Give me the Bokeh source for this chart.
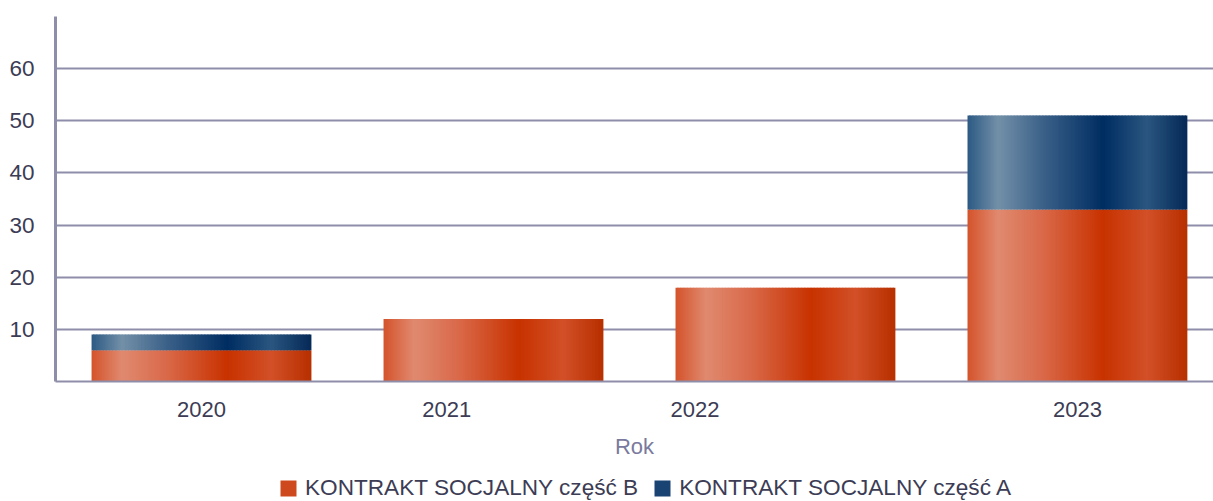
import numpy as np
from bokeh.plotting import figure
from bokeh.layouts import column
from bokeh.models import ColumnDataSource, FixedTicker, Legend, LegendItem, Range1d
from bokeh.embed import file_html
from bokeh.resources import INLINE

# ---- data ----
years = ["2020", "2021", "2022", "2023"]
part_b = [6, 12, 18, 33]      # KONTRAKT SOCJALNY część B
part_a = [3, 0, 0, 18]        # KONTRAKT SOCJALNY część A
y_ticks = [10, 20, 30, 40, 50, 60]
x_label_pos = [0, 0.84, 1.69, 3]   # where the year labels sit under the bars
series_labels = ["KONTRAKT SOCJALNY część B", "KONTRAKT SOCJALNY część A"]

FONT = "Liberation Sans"
GRID = "#8e8eab"
TEXT = "#3c3c55"

orange_stops = [(0.0, "#d4532b"), (0.14, "#e08a70"), (0.35, "#d96848"),
                (0.62, "#c83200"), (0.82, "#d25028"), (1.0, "#b83000")]
blue_stops = [(0.0, "#2c5a84"), (0.14, "#7390a8"), (0.35, "#3a6088"),
              (0.62, "#002d62"), (0.82, "#2a5680"), (1.0, "#062a58")]


def interp_color(stops, t):
    for (t0, c0), (t1, c1) in zip(stops[:-1], stops[1:]):
        if t0 <= t <= t1:
            f = (t - t0) / (t1 - t0) if t1 > t0 else 0
            a = [int(c0[i:i + 2], 16) for i in (1, 3, 5)]
            b = [int(c1[i:i + 2], 16) for i in (1, 3, 5)]
            return "#%02x%02x%02x" % tuple(round(a[k] + (b[k] - a[k]) * f) for k in range(3))
    return stops[-1][1]


BAR_W = 0.75
N = 150
sw = BAR_W / N


def strips(bottoms, tops, stops):
    xs, bs, ts, cs = [], [], [], []
    for i, (b, t) in enumerate(zip(bottoms, tops)):
        if t <= b:
            continue
        for k in range(N):
            frac = (k + 0.5) / N
            xs.append(i - BAR_W / 2 + frac * BAR_W)
            bs.append(b)
            ts.append(t)
            cs.append(interp_color(stops, frac))
    return ColumnDataSource(dict(x=xs, bottom=bs, top=ts, color=cs))


b_bot = [0] * len(years)
b_top = list(part_b)
a_bot = list(part_b)
a_top = [b + a for b, a in zip(part_b, part_a)]

src_b = strips(b_bot, b_top, orange_stops)
src_a = strips(a_bot, a_top, blue_stops)

p = figure(width=1213, height=466, output_backend="svg", toolbar_location=None,
           x_range=Range1d(-0.5, 3.466), y_range=Range1d(0, 70),
           min_border_left=55, min_border_right=0, min_border_top=16, min_border_bottom=85)
p.outline_line_color = None
p.background_fill_color = "white"
p.border_fill_color = "white"

p.vbar(x="x", bottom="bottom", top="top", width=sw * 1.6, fill_color="color",
       line_color=None, source=src_b)
p.vbar(x="x", bottom="bottom", top="top", width=sw * 1.6, fill_color="color",
       line_color=None, source=src_a)

# grid
p.xgrid.visible = False
p.ygrid.ticker = FixedTicker(ticks=y_ticks + [70])
p.ygrid.grid_line_color = GRID
p.ygrid.grid_line_width = 2
p.ygrid.level = "underlay"

# y axis
p.yaxis.ticker = FixedTicker(ticks=y_ticks)
p.yaxis.axis_line_color = GRID
p.yaxis.axis_line_width = 3
p.yaxis.major_tick_line_color = None
p.yaxis.minor_tick_line_color = None
p.yaxis.major_label_standoff = 15
p.yaxis.major_label_text_font = FONT
p.yaxis.major_label_text_font_size = "22.5px"
p.yaxis.major_label_text_color = TEXT

# x axis
p.xaxis.ticker = FixedTicker(ticks=x_label_pos)
p.xaxis.major_label_overrides = {pos: y for pos, y in zip(x_label_pos, years)}
p.xaxis.axis_line_color = GRID
p.xaxis.axis_line_width = 2
p.xaxis.major_tick_line_color = None
p.xaxis.minor_tick_line_color = None
p.xaxis.major_label_standoff = 14
p.xaxis.major_label_text_font = FONT
p.xaxis.major_label_text_font_size = "22px"
p.xaxis.major_label_text_color = TEXT
p.xaxis.axis_label = "Rok"
p.xaxis.axis_label_standoff = 14
p.xaxis.axis_label_text_font = FONT
p.xaxis.axis_label_text_font_size = "22px"
p.xaxis.axis_label_text_font_style = "normal"
p.xaxis.axis_label_text_color = "#7a7a9e"

# legend strip below the chart (hidden renderers sharing the bar data; only legend shows)
lf = figure(width=1213, height=35, output_backend="svg", toolbar_location=None,
            x_range=Range1d(0, 1), y_range=Range1d(0, 1),
            x_axis_location=None, y_axis_location=None, min_border=0)
lf.outline_line_color = None
lf.background_fill_color = "white"
lf.border_fill_color = "white"
lf.xgrid.visible = False
lf.ygrid.visible = False
lb = lf.vbar(x="x", bottom="bottom", top="top", width=sw, fill_color="color",
             line_color=None, source=src_b, visible=False)
la = lf.vbar(x="x", bottom="bottom", top="top", width=sw, fill_color="color",
             line_color=None, source=src_a, visible=False)

legend = Legend(items=[
    LegendItem(label=series_labels[0], renderers=[lb], index=N // 2),
    LegendItem(label=series_labels[1], renderers=[la], index=N // 2),
], orientation="horizontal", location=(223, 0))
legend.label_text_font = FONT
legend.label_text_font_size = "22.6px"
legend.label_text_color = TEXT
legend.glyph_width = 20
legend.glyph_height = 20
legend.label_height = 22
legend.label_standoff = 7
legend.spacing = 14
legend.padding = 2
legend.margin = 0
legend.border_line_color = None
legend.background_fill_alpha = 0
legend.inactive_fill_alpha = 0
lf.add_layout(legend)

layout = column(p, lf, spacing=0)
open("out.html", "w").write(file_html(layout, INLINE))
